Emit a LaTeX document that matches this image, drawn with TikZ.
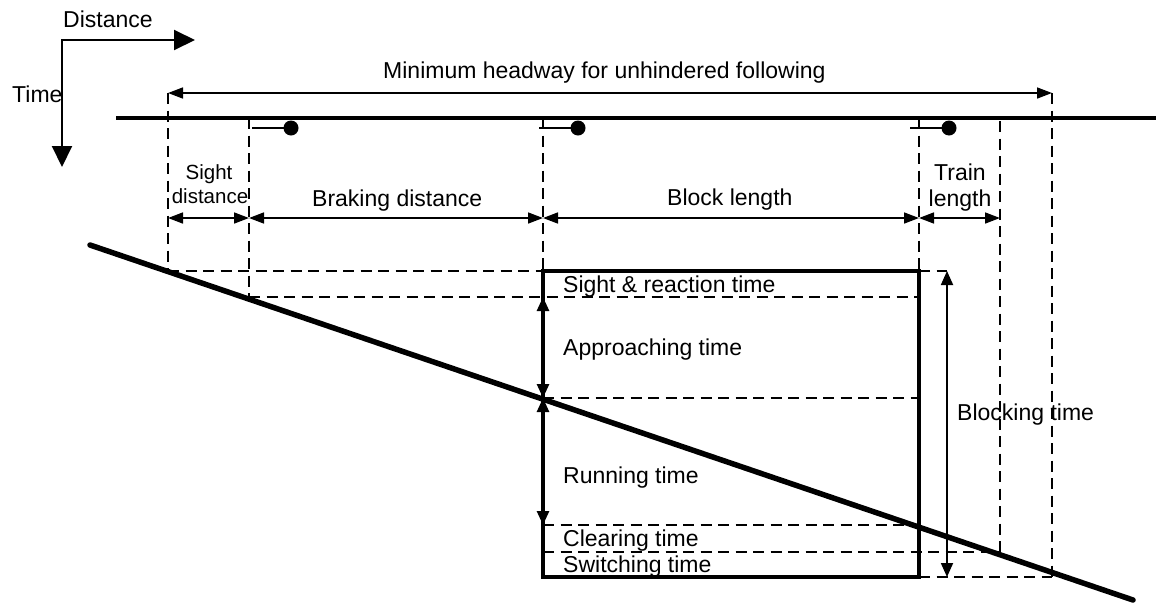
\documentclass[tikz,border=0pt]{standalone}
\usepackage{fontspec}
\setmainfont{Liberation Sans}
\usetikzlibrary{arrows.meta}
\begin{document}
\begin{tikzpicture}[x=1pt,y=-1pt,
  lbl/.style={font=\fontsize{23}{27}\selectfont,inner sep=0pt,anchor=base west},
  smalllbl/.style={font=\fontsize{20.5}{24}\selectfont,inner sep=0pt,anchor=base},
  dashln/.style={line width=2.7pt,dash pattern=on 11pt off 6.5pt},
  trackline/.style={line width=4.5pt},
  trainline/.style={line width=5.5pt,line cap=round},
  boxline/.style={line width=4.5pt},
  dimarrow/.style={line width=1.6pt,{Triangle[length=15pt,width=11pt]}-{Triangle[length=15pt,width=11pt]}},
  axisarrow/.style={line width=2pt,{Triangle[length=21pt,width=20pt]}-{Triangle[length=21pt,width=20pt]}},
  boxarrow/.style={line width=2.7pt,{Triangle[length=14pt,width=12pt]}-{Triangle[length=14pt,width=12pt]}},
  blockarrow/.style={line width=1.8pt,{Triangle[length=14pt,width=12pt]}-{Triangle[length=14pt,width=12pt]}},
  sigline/.style={line width=1.5pt}]
\useasboundingbox (0,0) rectangle (1156,603);

% axes
\coordinate (tEnd) at (62,167);
\coordinate (corner) at (62,40);
\coordinate (dEnd) at (195,40);
\draw[axisarrow] (tEnd) -- (corner) -- (dEnd);
\node[lbl] (distlbl) at (63,27) {Distance};
\node[lbl] (timelbl) at (12,102) {Time};

% key coordinates
\coordinate (h1) at (168,93);
\coordinate (h2) at (1052,93);
\coordinate (tr1) at (116,118);
\coordinate (tr2) at (1156,118);

% dashed verticals
\draw[dashln] (h1) -- (168,271);
\draw[dashln] (249,118) -- (249,297);
\draw[dashln] (543,118) -- (543,271);
\draw[dashln] (919,118) -- (919,271);
\draw[dashln] (1000,121) -- (1000,552);
\draw[dashln] (h2) -- (1052,577);

% dashed horizontals
\draw[dashln] (168,271) -- (543,271);
\draw[dashln] (919,271) -- (947,271);
\draw[dashln] (249,297) -- (919,297);
\draw[dashln] (543,398) -- (919,398);
\draw[dashln] (543,525) -- (919,525);
\draw[dashln] (543,552) -- (1000,552);
\draw[dashln] (919,577) -- (1052,577);

% headway
\draw[dimarrow] (h1) -- (h2);
\node[lbl] (headway) at (383,78) {Minimum headway for unhindered following};

% track
\draw[trackline] (tr1) -- (tr2);

% signals
\coordinate (sg1) at (291,128);
\coordinate (sg2) at (578,128);
\coordinate (sg3) at (949,128);
\draw[sigline] (252,128) -- (sg1);
\draw[sigline] (543,118) -- (543,128) (539,128) -- (sg2);
\draw[sigline] (919,118) -- (919,128) (910,128) -- (sg3);
\fill (sg1) circle (7.5);
\fill (sg2) circle (7.5);
\fill (sg3) circle (7.5);

% distance dimensions
\coordinate (d1) at (168,218);
\coordinate (d2) at (249,218);
\coordinate (d3) at (543,218);
\coordinate (d4) at (919,218);
\coordinate (d5) at (1000,218);
\draw[dimarrow] (d1) -- (d2);
\draw[dimarrow] (d2) -- (d3);
\draw[dimarrow] (d3) -- (d4);
\draw[dimarrow] (d4) -- (d5);
\node[smalllbl] (sight1) at (209,179) {Sight};
\node[smalllbl] (sight2) at (210,203) {distance};
\node[lbl] (braking) at (312,206) {Braking distance};
\node[lbl] (block) at (667,205) {Block length};
\node[lbl,anchor=base] (train1) at (960,180) {Train};
\node[lbl,anchor=base] (train2) at (960,206) {length};

% blocking time box
\draw[boxline] (543,271) rectangle (919,577);
\coordinate (b1) at (543,297);
\coordinate (b2) at (543,398);
\coordinate (b3) at (543,525);
\draw[boxarrow] (b1) -- (b2);
\draw[boxarrow] (b2) -- (b3);
\coordinate (bt1) at (947,271);
\coordinate (bt2) at (947,577);
\draw[blockarrow] (bt1) -- (bt2);

% train path
\coordinate (p1) at (90,245);
\coordinate (p2) at (1133,600);
\draw[trainline] (p1) -- (p2);

% time labels
\node[lbl] (sr) at (563,292) {Sight \& reaction time};
\node[lbl] (ap) at (563,355) {Approaching time};
\node[lbl] (rn) at (563,483) {Running time};
\node[lbl] (cl) at (563,546) {Clearing time};
\node[lbl] (sw) at (563,572) {Switching time};
\node[lbl] (bl) at (957,420) {Blocking time};
\end{tikzpicture}
\end{document}
